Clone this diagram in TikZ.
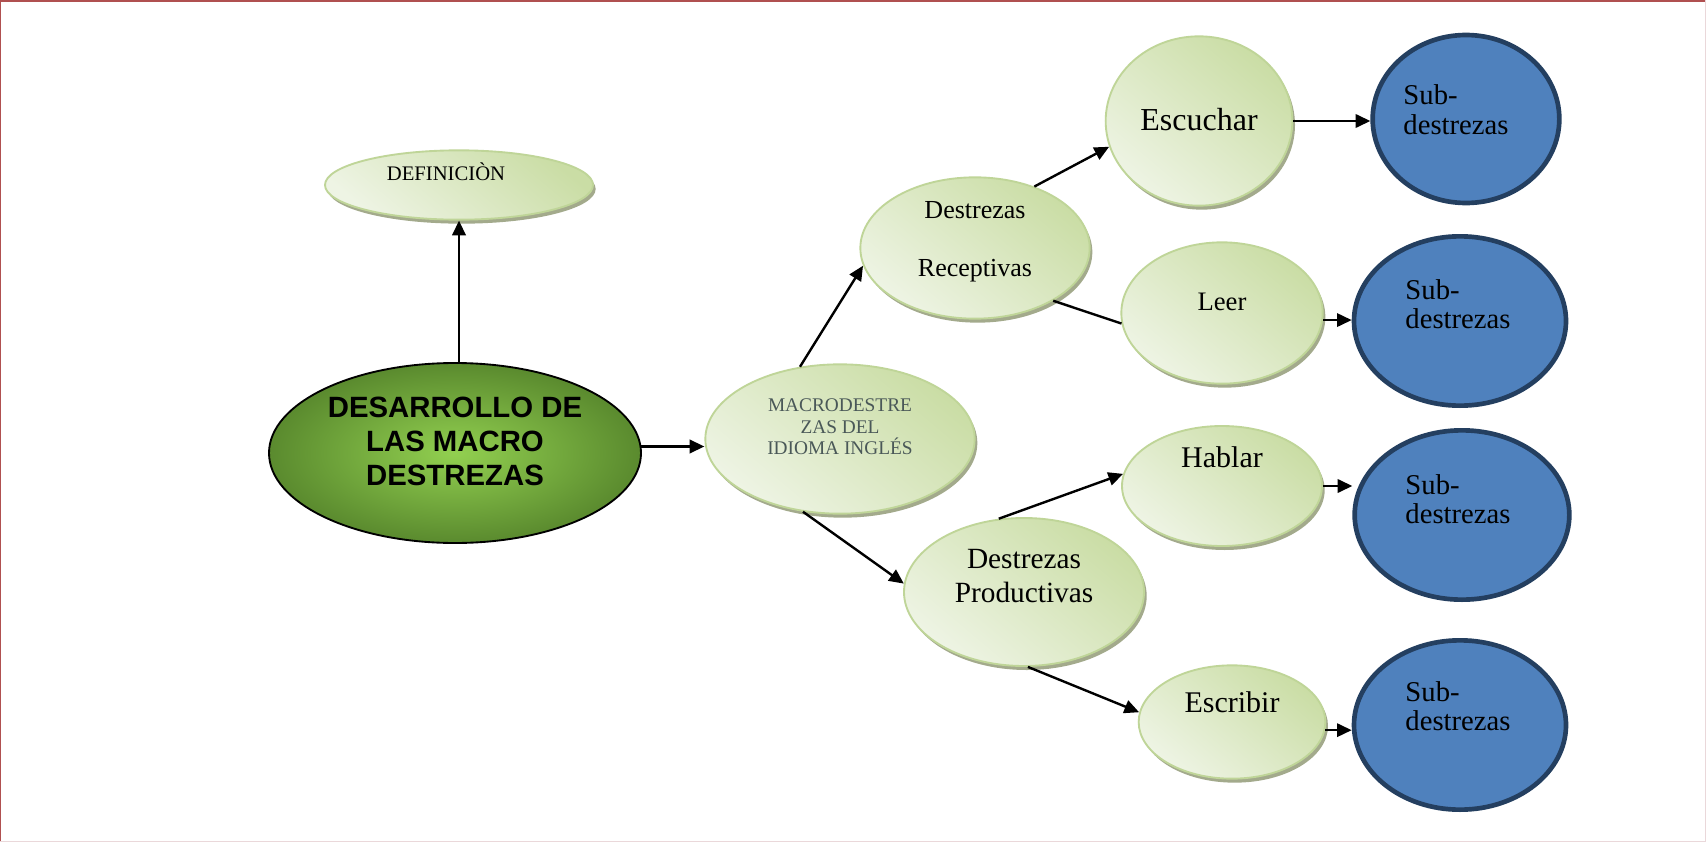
\documentclass[tikz,border=0pt]{standalone}
\usepackage{fontspec}
\setmainfont{Liberation Serif}
\newfontfamily\arialfont{Liberation Sans}
\usetikzlibrary{shapes.geometric,arrows.meta,shadows}
\definecolor{gdark}{HTML}{CADDA5}
\definecolor{glight}{HTML}{EEF4E4}
\definecolor{gborder}{HTML}{BFD598}
\definecolor{gshadow}{HTML}{A3AA8C}
\definecolor{mainin}{HTML}{92D050}
\definecolor{mainout}{HTML}{5A8A2E}
\definecolor{bluefill}{HTML}{4F81BD}
\definecolor{blueborder}{HTML}{243F60}
\definecolor{macgray}{HTML}{4A5858}
\definecolor{framered}{HTML}{B05050}
\definecolor{framelight}{HTML}{EAD8DA}
\begin{document}
\begin{tikzpicture}[x=0.75pt,y=-0.75pt,
  greennode/.style={ellipse, draw=gborder, line width=1.4pt, top color=gdark, bottom color=glight, shading angle=-40,
     drop shadow={shadow xshift=2pt, shadow yshift=-3pt, fill=gshadow, opacity=1}, inner sep=0pt},
  bluenode/.style={ellipse, draw=blueborder, fill=bluefill, line width=3.5pt, inner sep=0pt},
  txt/.style={align=center, inner sep=0pt, text=black},
  subtxt/.style={align=left, inner sep=0pt, text=black, font=\fontsize{21.5}{22}\selectfont},
  arr/.style={-{Triangle[length=11pt,width=10pt]}, line width=1.8pt, black},
  plainline/.style={line width=1.8pt, black}
]
\fill[white] (0,0) rectangle (1706,842);
\useasboundingbox (0,0) rectangle (1706,842);
\draw[framered, line width=2pt] (0,1) -- (1706,1);
\draw[framered, line width=0.8pt] (0.5,0) -- (0.5,842);
\draw[framelight, line width=0.8pt] (0,841.5) -- (1706,841.5);
\draw[framelight, line width=0.8pt] (1705.5,0) -- (1705.5,842);

% nodes
\node[greennode, minimum width=201pt, minimum height=52pt,
  label={[txt, font=\fontsize{15.5}{18}\selectfont, xshift=-9.75pt, yshift=9.75pt]center:DEFINICIÒN}] (def) at (459,185) {};

\node[ellipse, draw=black, line width=1.4pt, inner color=mainin, outer color=mainout, minimum width=279pt, minimum height=135pt,
  inner sep=0pt,
  label={[txt, font=\arialfont\bfseries\fontsize{22}{25.5}\selectfont, yshift=9pt]center:DESARROLLO DE\\LAS MACRO\\DESTREZAS}] (main) at (455,453) {};

\node[greennode, minimum width=202pt, minimum height=112pt,
  label={[txt, text=macgray, font=\fontsize{14.5}{16}\selectfont, yshift=9pt]center:MACRODESTRE\\ZAS DEL\\IDIOMA INGLÉS}] (mac) at (840,439) {};

\node[greennode, minimum width=172pt, minimum height=106pt,
  label={[txt, font=\fontsize{19.5}{43.5}\selectfont, yshift=4.5pt]center:Destrezas\\Receptivas}] (rec) at (975,248) {};

\node[greennode, minimum width=140pt, minimum height=127pt,
  label={[txt, font=\fontsize{24}{28}\selectfont, yshift=1pt]center:Escuchar}] (esc) at (1199,121) {};

\node[bluenode, minimum width=140pt, minimum height=126pt,
  label={[subtxt, xshift=-7.5pt, yshift=7pt]center:Sub-\\destrezas}] (sub1) at (1466,119) {};

\node[greennode, minimum width=151pt, minimum height=106pt,
  label={[txt, font=\fontsize{20}{24}\selectfont, yshift=8.25pt]center:Leer}] (leer) at (1222,313) {};

\node[bluenode, minimum width=159pt, minimum height=127pt,
  label={[subtxt, xshift=-1.5pt, yshift=12.75pt]center:Sub-\\destrezas}] (sub2) at (1460,321) {};

\node[greennode, minimum width=150pt, minimum height=90pt,
  label={[txt, font=\fontsize{22.5}{26}\selectfont, yshift=21.75pt]center:Hablar}] (hab) at (1222,486) {};

\node[bluenode, minimum width=161pt, minimum height=127pt,
  label={[subtxt, xshift=-3pt, yshift=12pt]center:Sub-\\destrezas}] (sub3) at (1462,515) {};

\node[greennode, minimum width=180pt, minimum height=111pt,
  label={[txt, font=\fontsize{22}{26}\selectfont, yshift=12pt]center:Destrezas\\Productivas}] (prod) at (1024,592) {};

\node[greennode, minimum width=140pt, minimum height=85pt,
  label={[txt, font=\fontsize{22.5}{26}\selectfont, yshift=15pt]center:Escribir}] (escr) at (1232,722) {};

\node[bluenode, minimum width=159pt, minimum height=127pt,
  label={[subtxt, xshift=-1.5pt, yshift=14.25pt]center:Sub-\\destrezas}] (sub4) at (1460,725) {};

% connectors
\draw[arr] (main.north -| def.south) -- (def.south);
\draw[arr] (main.2) -- (main.2 -| mac.west);
\draw[arr] (mac.119) -- (rec.189);
\draw[arr] (mac.243) -- (prod.176);
\draw[arr] (rec.46) -- (esc.196);
\draw[plainline] (rec.-34) -- (leer.186);
\draw[arr] (esc.east) -- (esc.east -| sub1.west);
\draw[arr] (leer.-4) -- (leer.-4 -| sub2.west);
\draw[arr] (prod.109) -- (hab.173);
\draw[arr] (hab.east) -- (hab.east -| sub3.west);
\draw[arr] (prod.-87) -- (escr.174);
\draw[arr] (escr.-5) -- (escr.-5 -| sub4.west);
\end{tikzpicture}
\end{document}
